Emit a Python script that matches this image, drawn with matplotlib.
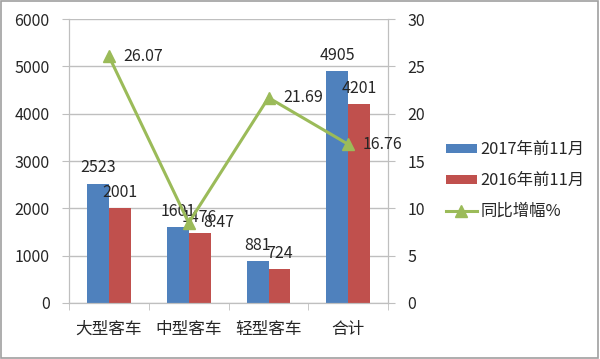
import numpy as np
import matplotlib.pyplot as plt
from matplotlib.patches import Rectangle

plt.rcParams['font.family'] = ['Noto Sans CJK SC', 'DejaVu Sans']

categories = ['大型客车', '中型客车', '轻型客车', '合计']
sales_2017 = [2523, 1601, 881, 4905]
sales_2016 = [2001, 1476, 724, 4201]
growth = [26.07, 8.47, 21.69, 16.76]
labels = ['2017年前11月', '2016年前11月', '同比增幅%']

blue = '#4F81BD'
red = '#C0504D'
green = '#9BBB59'
grid = '#BFBFBF'
txt = '#262626'
fs = 11.5

fig = plt.figure(figsize=(6, 3.59), dpi=100)
fig.patches.append(Rectangle((0.002, 0.003), 0.995, 0.994, transform=fig.transFigure,
                             fill=False, edgecolor='#A0A0A0', linewidth=1.2))
ax = fig.add_axes([0.115, 0.156, 0.532, 0.791])
ax2 = ax.twinx()

x = np.arange(len(categories))
w = 0.275
b1 = ax.bar(x - w / 2, sales_2017, w, color=blue, label=labels[0], zorder=2)
b2 = ax.bar(x + w / 2, sales_2016, w, color=red, label=labels[1], zorder=2)

# data labels above the bars
for xi, v in zip(x, sales_2017):
    ax.text(xi - w / 2, v + 330, str(v), ha='center', va='center', fontsize=fs, color=txt)
for xi, v in zip(x, sales_2016):
    ax.text(xi + w / 2, v + 330, str(v), ha='center', va='center', fontsize=fs, color=txt)

ln, = ax2.plot(x, growth, color=green, linewidth=2.2, marker='^', markersize=8,
               label=labels[2], zorder=3)
for xi, v in zip(x, growth):
    ax2.text(xi + 0.18, v, f'{v:.2f}', ha='left', va='center', fontsize=fs, color=txt)

ax.set_xlim(-0.5, 3.5)
ax.set_ylim(0, 6000)
ax.set_yticks(range(0, 6001, 1000))
ax2.set_ylim(0, 30)
ax2.set_yticks(range(0, 31, 5))
ax.set_xticks(x)
ax.set_xticklabels(categories, fontsize=fs + 0.5, color=txt)
ax.set_xticks(np.arange(-0.5, 3.6, 1), minor=True)
ax.tick_params(axis='x', which='major', length=0, pad=13)
ax.tick_params(axis='x', which='minor', length=5, color=grid)
ax.tick_params(axis='y', length=5, color=grid, labelsize=fs, labelcolor=txt, pad=9)
ax2.tick_params(axis='y', length=5, color=grid, labelsize=fs, labelcolor=txt, pad=9)
ax.grid(axis='y', color=grid, linewidth=1, zorder=0)
ax.set_axisbelow(True)

for a in (ax, ax2):
    a.spines['top'].set_visible(False)
    for s in ('left', 'right', 'bottom'):
        a.spines[s].set_color(grid)
ax.patch.set_visible(False)

fig.legend(handles=[b1, b2, ln], labels=labels, loc='center left',
           bbox_to_anchor=(0.718, 0.497), frameon=False, fontsize=fs + 0.3,
           handlelength=1.9, handleheight=0.5, handletextpad=0.25,
           labelspacing=0.85, labelcolor=txt)

fig.savefig('out.png', dpi=100)
